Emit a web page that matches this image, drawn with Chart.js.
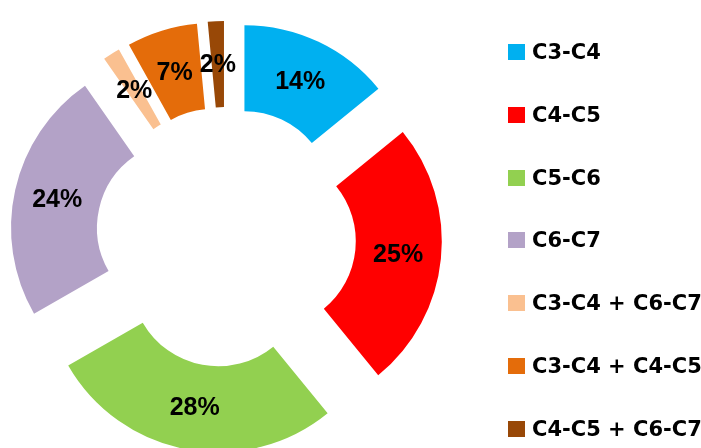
<!DOCTYPE html>
<html lang="en">

<head>
    <meta charset="UTF-8">
    <title>Doughnut</title>
    <script src="https://cdn.jsdelivr.net/npm/chart.js"></script>
    <style>
        body {
            margin: 0;
            background-color: white;
        }

        #wrap {
            position: relative;
            width: 701px;
            height: 448px;
        }

        #legend {
            position: absolute;
            left: 508px;
            top: 0;
            margin: 0;
            padding: 0;
            list-style: none;
        }

        #legend li {
            position: absolute;
            left: 0;
            display: flex;
            align-items: center;
            height: 24px;
            white-space: nowrap;
            font-family: "DejaVu Sans", sans-serif;
            font-weight: bold;
            font-size: 21px;
            color: #000;
        }

        #legend .box {
            display: inline-block;
            width: 17px;
            height: 16px;
            margin-right: 7px;
        }
    </style>
</head>

<body>
    <div id="wrap">
        <canvas id="myChart" width="701" height="448"></canvas>
        <ul id="legend"></ul>
    </div>

    <script>
        const categories = ['C3-C4', 'C4-C5', 'C5-C6', 'C6-C7', 'C3-C4 + C6-C7', 'C3-C4 + C4-C5', 'C4-C5 + C6-C7'];
        const shares = [14.1, 25.0, 27.6, 23.6, 1.6, 6.6, 1.5];
        const colors = ['#00B0F0', '#FF0000', '#92D050', '#B3A2C7', '#FAC090', '#E46C0A', '#984807'];

        const explode = 43;

        // pull every slice out along its middle angle
        const explodePlugin = {
            id: 'explode',
            beforeDatasetDraw(chart, args) {
                const ctx = chart.ctx;
                args.meta.data.forEach(arc => {
                    const mid = (arc.startAngle + arc.endAngle) / 2;
                    ctx.save();
                    ctx.translate(Math.cos(mid) * explode, Math.sin(mid) * explode);
                    arc.draw(ctx);
                    ctx.restore();
                });
                return false;
            }
        };

        const percentLabels = {
            id: 'percentLabels',
            afterDatasetsDraw(chart) {
                const ctx = chart.ctx;
                const meta = chart.getDatasetMeta(0);
                const total = shares.reduce((a, b) => a + b, 0);
                ctx.save();
                ctx.font = 'bold 25px "Liberation Sans", Arial, sans-serif';
                ctx.fillStyle = '#000';
                ctx.textAlign = 'center';
                ctx.textBaseline = 'middle';
                meta.data.forEach((arc, i) => {
                    const mid = (arc.startAngle + arc.endAngle) / 2;
                    const r = (arc.innerRadius + arc.outerRadius) / 2 + explode;
                    const x = arc.x + Math.cos(mid) * r;
                    const y = arc.y + Math.sin(mid) * r;
                    ctx.fillText(Math.round(shares[i] / total * 100) + '%', x, y + 1);
                });
                ctx.restore();
            }
        };

        const ctx = document.getElementById('myChart').getContext('2d');
        new Chart(ctx, {
            type: 'doughnut',
            data: {
                labels: categories,
                datasets: [{
                    data: shares,
                    backgroundColor: colors,
                    borderWidth: 0
                }]
            },
            options: {
                responsive: false,
                animation: false,
                radius: 173,
                cutout: '50.3%',
                layout: {
                    padding: { left: 0, right: 249, top: 26, bottom: 0 }
                },
                plugins: {
                    legend: { display: false },
                    tooltip: { enabled: false }
                }
            },
            plugins: [explodePlugin, percentLabels]
        });

        // legend beside the chart
        const legend = document.getElementById('legend');
        categories.forEach((name, i) => {
            const li = document.createElement('li');
            li.style.top = (40 + i * 62.8) + 'px';
            li.innerHTML = '<span class="box" style="background:' + colors[i] + '"></span>' + name;
            legend.appendChild(li);
        });
    </script>
</body>

</html>
